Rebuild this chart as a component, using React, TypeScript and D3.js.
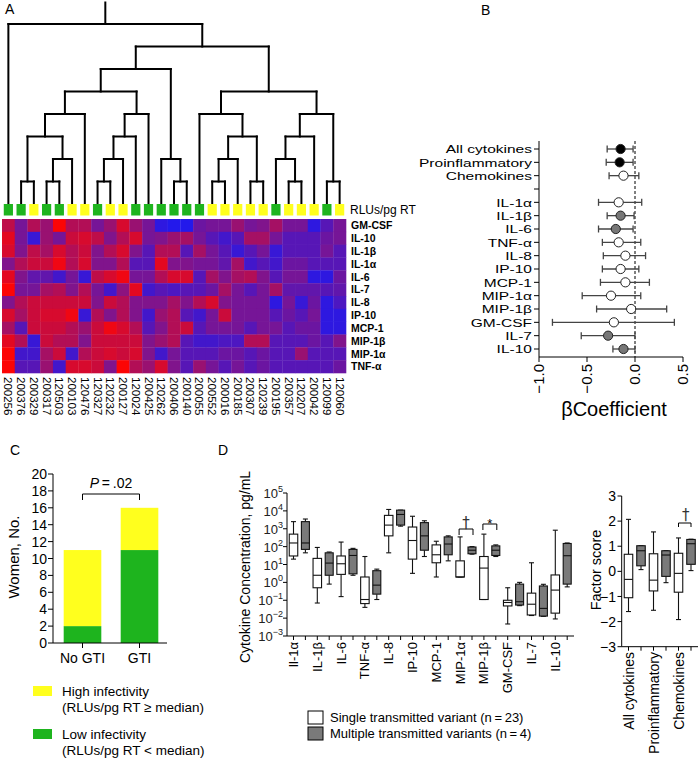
import React from "react";
import * as d3 from "d3";

const FONT = "'Liberation Sans', Arial, Helvetica, sans-serif";

// ---------- Panel A data ----------
const sampleIds = ["200256","200376","200329","200317","120503","200103","120476","120327","120232","200127","120024","200425","120262","200406","200140","200055","200552","200016","200185","200307","120239","200195","200357","120207","200042","120099","120060"];
// L = low infectivity (green), H = high infectivity (yellow)
const infectivity = ["L","L","H","L","L","H","H","L","H","H","L","L","L","L","L","L","H","H","H","H","H","L","H","H","H","L","H"];
const heatRows = ["GM-CSF","IL-10","IL-1β","IL-1α","IL-6","IL-7","IL-8","IP-10","MCP-1","MIP-1β","MIP-1α","TNF-α"];
// 0 = blue (low) ... 10 = red (high)
const heatGMCSF = [7.5,4.5,7,6,10,7,7,4.5,6,8.5,6,4.5,1,0.5,0.5,4,4.5,4.5,6,4.5,5,6.5,4.5,4.5,1,3,4.5];
const heatIL10 = [9,4.5,1.5,6,4.5,8,8.5,7.5,5,7,8.5,4.5,5,6,6.5,4.5,3,2,3,6.5,6.5,4.5,3,3,3,4,4.5];
const heatIL1b = [8.5,5,7.5,6.5,8.5,7,8,5,7,8.5,5,3,7,7,3,6.5,4.5,3,1.5,3,4.5,1.5,3,3,3,4.5,3];
const heatIL1a = [5,7,8,8,9.5,7,8.5,5,5,7,3,3,9,5,5,4.5,4.5,3.5,6.5,2,3,2,4,4,3,3,3];
const heatIL6 = [9,5,3.5,3.5,2,4.5,1.5,7.5,8.5,9.5,4.5,4.5,7,8.5,8.5,3,6.5,5,6.5,7,5,3,4.5,4.5,1,1,4];
const heatIL7 = [10,4.5,4.5,6.5,7,5,7,4.5,2,5.5,9,2,3,2.5,3,3,4,6.5,4.5,3,4.5,6.5,3.5,3.5,3.5,3,3.5];
const heatIL8 = [5,7,8,8,8,8,8,5,8,7,5,5,5,6.5,5,7,8.5,5,4.5,4.5,4.5,1,4.5,1.5,4,1,2.5];
const heatIP10 = [8.5,6.5,8,8.5,8.5,9.5,1.5,7,5,7,5,2,6,7,3,2,4.5,8,4.5,4.5,4.5,3,4,3,4.5,1,1];
const heatMCP1 = [6.5,3,8,8,8,7,6,8,9.5,8.5,7,3,5,7,8,3,4.5,4.5,4.5,3,4.5,4.5,3,4,4,1,1];
const heatMIP1b = [9,7,1.5,8,7,7,5,8,8,8,8,5,6,7,3,2,2,2.5,2.5,7,7,3,3,3,4,3,5];
const heatMIP1a = [10,2,2,6.5,8,2,7,8,8.5,8,8.5,5,2,4.5,3,3,3,4,4,3,4,3,3,6,3,3,3];
const heatTNFa = [10,3,3,6,2,8.5,8.5,8,5,10,7,6,8.5,5,3,6,4.5,3,4.5,3,4,3,3,3,3,3,4];
const heatValues = [heatGMCSF, heatIL10, heatIL1b, heatIL1a, heatIL6, heatIL7, heatIL8, heatIP10, heatMCP1, heatMIP1b, heatMIP1a, heatTNFa];

type DNode = number | { h: number; c: DNode[] };
const dendro: DNode = { h: 8, c: [0, { h: 7, c: [
  { h: 6, c: [
    { h: 5, c: [
      { h: 4, c: [ { h: 3, c: [ { h: 1, c: [1, 2] }, { h: 2, c: [ { h: 1, c: [3, 4] }, 5 ] } ] }, 6 ] },
      { h: 4, c: [ { h: 3, c: [ { h: 2, c: [ { h: 1, c: [7, 8] }, 9 ] }, 10 ] }, 11 ] },
    ] },
    { h: 2, c: [12, { h: 1, c: [13, 14] }] },
  ] },
  { h: 5, c: [
    { h: 4, c: [15, { h: 3, c: [ { h: 2, c: [ { h: 1, c: [16, 17] }, 18 ] }, { h: 1, c: [19, 20] } ] }] },
    { h: 4, c: [ { h: 3, c: [ { h: 2, c: [21, { h: 1, c: [22, 23] }] }, 24 ] }, { h: 1, c: [25, 26] } ] },
  ] },
] }] };

// ---------- Panel B data ----------
const bLabels = ["All cytokines","Proinflammatory","Chemokines"," ","IL-1α","IL-1β","IL-6","TNF-α","IL-8","IP-10","MCP-1","MIP-1α","MIP-1β","GM-CSF","IL-7","IL-10"];
const bBeta = [-0.15,-0.16,-0.12,NaN,-0.17,-0.15,-0.20,-0.17,-0.10,-0.15,-0.10,-0.25,-0.04,-0.22,-0.28,-0.12];
const bLow = [-0.29,-0.30,-0.27,NaN,-0.38,-0.29,-0.38,-0.34,-0.33,-0.34,-0.36,-0.55,-0.40,-0.86,-0.56,-0.23];
const bHigh = [-0.02,-0.02,0.04,NaN,0.07,-0.01,-0.02,0.06,0.11,0.04,0.15,0.06,0.33,0.41,0.0,0.0];
const bSig = ["sig","sig","ns","","ns","trend","trend","ns","ns","ns","ns","ns","ns","ns","trend","trend"];
const bTicks = [-1.0, -0.5, 0.0, 0.5];

// ---------- Panel C data ----------
const cGroups = ["No GTI", "GTI"];
const cLow = [2, 11];
const cHigh = [9, 5];
const cTicks = [0, 2, 4, 6, 8, 10, 12, 14, 16, 18, 20];

// ---------- Panel D data ----------
const dCytokines = ["Il-1α","IL-1β","IL-6","TNF-α","IL-8","IP-10","MCP-1","MIP-1α","MIP-1β","GM-CSF","IL-7","IL-10"];
const sMin = [20, 0.07, 0.16, 0.04, 45, 3.2, 2, 2, 0.11, 0.0047, 0.014, 0.009];
const sQ1 = [30, 0.5, 2.8, 0.065, 400, 20, 12.5, 2, 0.11, 0.048, 0.015, 0.019];
const sMed = [160, 2.5, 11, 0.11, 1600, 220, 35, 2, 6.3, 0.075, 0.06, 0.37];
const sQ3 = [500, 22, 30, 2, 5600, 1250, 125, 16, 28, 0.1, 0.25, 2.6];
const sMax = [2500, 90, 180, 28, 12000, 5000, 200, 350, 500, 0.5, 12.5, 830];
const mMin = [45, 0.8, 2.5, 0.11, 1400, 28, 16, 38, 28, 0.05, 0.0126, 0.56];
const mQ1 = [70, 2.5, 3, 0.22, 1600, 63, 35, 40, 32, 0.054, 0.013, 0.8];
const mMed = [160, 12, 32, 0.7, 6300, 400, 140, 63, 63, 0.083, 0.035, 31];
const mQ3 = [2500, 45, 70, 4.5, 11000, 2200, 350, 95, 110, 0.8, 0.63, 150];
const mMax = [3500, 50, 80, 5.5, 11000, 2800, 400, 100, 125, 1.0, 0.78, 160];
const dExponents = [5, 4, 3, 2, 1, 0, -1, -2, -3];

const fCats = ["All cytokines", "Proinflammatory", "Chemokines"];
const fsMin = [-1.6, -1.55, -1.92];
const fsQ1 = [-1.05, -0.78, -0.83];
const fsMed = [-0.32, -0.35, -0.08];
const fsQ3 = [0.68, 0.7, 0.72];
const fsMax = [2.07, 1.57, 1.33];
const fmMin = [0.07, -0.45, 0.03];
const fmQ1 = [0.22, -0.2, 0.28];
const fmMed = [0.82, 0.65, 1.1];
const fmQ3 = [1.02, 0.82, 1.27];
const fmMax = [1.02, 0.82, 1.28];
const fTicks = [3, 2, 1, 0, -1, -2, -3];

const YELLOW = "#ffff1e";
const GREEN = "#1eb41e";
const GRAY = "#7a7a7a";

function Box({ x, w, y0, y1, ym, yq1, yq3, fill }: any) {
  const cap = 2.5;
  return (
    <g stroke="#111" strokeWidth={1.1}>
      <line x1={x} x2={x} y1={y1} y2={yq3} />
      <line x1={x} x2={x} y1={yq1} y2={y0} />
      <line x1={x - cap} x2={x + cap} y1={y1} y2={y1} />
      <line x1={x - cap} x2={x + cap} y1={y0} y2={y0} />
      <rect x={x - w / 2} y={yq3} width={w} height={Math.max(0.5, yq1 - yq3)} fill={fill} />
      <line x1={x - w / 2} x2={x + w / 2} y1={ym} y2={ym} />
    </g>
  );
}

export default function App() {
  // ----- Panel A -----
  const xCol = d3.scaleBand().domain(sampleIds).range([2, 346]);
  const yRow = d3.scaleBand().domain(heatRows).range([219, 373]);
  const color = d3.scaleLinear<string>().domain([0, 5, 10]).range(["rgb(25,25,245)", "rgb(128,20,140)", "rgb(252,5,5)"]).interpolate(d3.interpolateRgb);
  const yH = d3.scaleLinear().domain([0, 8]).range([204, 24]);
  const leafX = (i: number) => (xCol(sampleIds[i]) as number) + xCol.bandwidth() / 2;
  const dSegs: { x1: number; y1: number; x2: number; y2: number }[] = [];
  const layout = (n: DNode): { x: number; y: number } => {
    if (typeof n === "number") return { x: leafX(n), y: yH(0) };
    const kids = n.c.map(layout);
    const y = yH(n.h);
    dSegs.push({ x1: kids[0].x, y1: y, x2: kids[kids.length - 1].x, y2: y });
    kids.forEach((k) => dSegs.push({ x1: k.x, y1: y, x2: k.x, y2: k.y }));
    return { x: (kids[0].x + kids[kids.length - 1].x) / 2, y };
  };
  const root = layout(dendro);
  dSegs.push({ x1: root.x, y1: root.y, x2: root.x, y2: yH(9) + 1 });

  // ----- Panel B -----
  const bx = d3.scaleLinear().domain([-1, 0.5]).range([539, 683]);
  const by = d3.scalePoint().domain(bLabels).range([141, 357]).padding(0.6);

  // ----- Panel C -----
  const cy = d3.scaleLinear().domain([0, 20]).range([643, 474]);
  const cx = d3.scaleBand().domain(cGroups).range([54, 168]).paddingInner(0.34).paddingOuter(0.17);

  // ----- Panel D left -----
  const dy = d3.scaleLog().domain([1e-3, 1e5]).range([636, 493]);
  const dx = d3.scalePoint().domain(dCytokines).range([293.5, 555.3]);
  const dOff = dx.step() / 2;

  // ----- Panel D right -----
  const fy = d3.scaleLinear().domain([-3, 3]).range([646.7, 496]);
  const fx = d3.scalePoint().domain(fCats).range([628.5, 678.5]);
  const fOff = fx.step() / 2;

  const fmt = (v: number) => (v < 0 ? "\u2212" : "") + Math.abs(v).toFixed(1);
  const sup = (e: number) => (e < 0 ? "\u2212" + Math.abs(e) : String(e));

  return (
    <svg width={700} height={760} style={{ position: "absolute", left: 0, top: 0, background: "#fff" }} fontFamily={FONT}>
      <rect x={0} y={0} width={700} height={760} fill="#fff" />
      {/* Panel labels */}
      <text x={5} y={14} fontSize={14}>A</text>
      <text x={481} y={15} fontSize={14}>B</text>
      <text x={10} y={455} fontSize={14}>C</text>
      <text x={218} y={455} fontSize={14}>D</text>

      {/* ===== Panel A ===== */}
      <g stroke="#000" strokeWidth={2} strokeLinecap="square">
        {dSegs.map((s, i) => (
          <line key={i} x1={s.x1} y1={s.y1} x2={s.x2} y2={s.y2} />
        ))}
      </g>
      {sampleIds.map((id, i) => (
        <rect key={id} x={leafX(i) - 4.6} y={204} width={9.2} height={11.5} fill={infectivity[i] === "L" ? GREEN : YELLOW} />
      ))}
      <text x={350} y={214} fontSize={12}>RLUs/pg RT</text>
      {heatValues.map((row, r) =>
        row.map((v, c) => (
          <rect key={r + "-" + c} x={xCol(sampleIds[c])} y={yRow(heatRows[r])} width={xCol.bandwidth() + 0.3} height={yRow.bandwidth() + 0.3} fill={color(v)} />
        ))
      )}
      {heatRows.map((r) => (
        <text key={r} x={351} y={(yRow(r) as number) + yRow.bandwidth() / 2} dy="0.36em" fontSize={10.5} fontWeight="bold">{r}</text>
      ))}
      {sampleIds.map((id, i) => (
        <text key={id} transform={`translate(${leafX(i) - 4},377) rotate(90)`} fontSize={11.5}>{id}</text>
      ))}

      {/* ===== Panel B ===== */}
      <g stroke="#000" strokeWidth={1}>
        <line x1={539} x2={539} y1={141} y2={357} />
        <line x1={539} x2={683} y1={357} y2={357} />
        {bLabels.map((l) => (
          <line key={l} x1={534} x2={539} y1={by(l)} y2={by(l)} />
        ))}
        {bTicks.map((t) => (
          <line key={t} x1={bx(t)} x2={bx(t)} y1={357} y2={362} />
        ))}
      </g>
      <line x1={bx(0)} x2={bx(0)} y1={141} y2={357} stroke="#000" strokeWidth={1} strokeDasharray="3,2" />
      {bLabels.map((l) => (
        <text key={l} transform={`translate(532,${(by(l) as number) + 4.2}) scale(1.35,1)`} textAnchor="end" fontSize={11.5}>{l}</text>
      ))}
      {bTicks.map((t) => (
        <text key={t} transform={`translate(${bx(t) + 5},364) rotate(-90)`} textAnchor="end" fontSize={15}>{fmt(t)}</text>
      ))}
      <text x={614} y={416} textAnchor="middle" fontSize={20}>βCoefficient</text>
      {bLabels.map((l, i) => {
        if (isNaN(bBeta[i])) return null;
        const y = by(l) as number;
        const fill = bSig[i] === "sig" ? "#000" : bSig[i] === "trend" ? "#777" : "#fff";
        return (
          <g key={l}>
            <g stroke="#444" strokeWidth={1.3}>
              <line x1={bx(bLow[i])} x2={bx(bHigh[i])} y1={y} y2={y} />
              <line x1={bx(bLow[i])} x2={bx(bLow[i])} y1={y - 3.5} y2={y + 3.5} />
              <line x1={bx(bHigh[i])} x2={bx(bHigh[i])} y1={y - 3.5} y2={y + 3.5} />
            </g>
            <circle cx={bx(bBeta[i])} cy={y} r={4.6} fill={fill} stroke="#222" strokeWidth={1} />
          </g>
        );
      })}

      {/* ===== Panel C ===== */}
      {cGroups.map((g, i) => (
        <g key={g}>
          <rect x={cx(g)} y={cy(cLow[i])} width={cx.bandwidth()} height={cy(0) - cy(cLow[i])} fill={GREEN} />
          <rect x={cx(g)} y={cy(cLow[i] + cHigh[i])} width={cx.bandwidth()} height={cy(cLow[i]) - cy(cLow[i] + cHigh[i])} fill={YELLOW} />
        </g>
      ))}
      <g stroke="#000" strokeWidth={1}>
        <line x1={53} x2={53} y1={cy(20)} y2={cy(0)} />
        <line x1={53} x2={167} y1={cy(0)} y2={cy(0)} />
        {cTicks.map((t) => (
          <line key={t} x1={48} x2={53} y1={cy(t)} y2={cy(t)} />
        ))}
        {cGroups.map((g) => {
          const x = (cx(g) as number) + cx.bandwidth() / 2;
          return <line key={g} x1={x} x2={x} y1={cy(0)} y2={cy(0) + 5} />;
        })}
      </g>
      {cTicks.map((t) => (
        <text key={t} x={47} y={cy(t)} dy="0.36em" textAnchor="end" fontSize={14}>{t}</text>
      ))}
      {cGroups.map((g) => (
        <text key={g} x={(cx(g) as number) + cx.bandwidth() / 2} y={663} textAnchor="middle" fontSize={14}>{g}</text>
      ))}
      <text transform="translate(19,557) rotate(-90)" textAnchor="middle" fontSize={15}>Women, No.</text>
      {(() => {
        const x1 = (cx(cGroups[0]) as number) + cx.bandwidth() / 2;
        const x2 = (cx(cGroups[1]) as number) + cx.bandwidth() / 2;
        return (
          <g>
            <path d={`M${x1},500V494H${x2}V500`} fill="none" stroke="#000" strokeWidth={1} />
            <text x={(x1 + x2) / 2} y={488} textAnchor="middle" fontSize={14}>
              <tspan fontStyle="italic">P</tspan>{"\u2009=\u2009.02"}
            </text>
          </g>
        );
      })()}
      <rect x={33} y={686} width={19} height={10} fill={YELLOW} />
      <text x={62} y={696} fontSize={13.5}>High infectivity</text>
      <text x={62} y={712} fontSize={13.5}>(RLUs/pg RT ≥ median)</text>
      <rect x={33} y={729} width={19} height={10} fill={GREEN} />
      <text x={62} y={739} fontSize={13.5}>Low infectivity</text>
      <text x={62} y={755} fontSize={13.5}>(RLUs/pg RT &lt; median)</text>

      {/* ===== Panel D left ===== */}
      <g stroke="#000" strokeWidth={1}>
        <line x1={287} x2={287} y1={dy(1e5)} y2={dy(1e-3)} />
        <line x1={287} x2={574} y1={dy(1e-3)} y2={dy(1e-3)} />
        {dExponents.map((e) => (
          <line key={e} x1={283} x2={287} y1={dy(Math.pow(10, e))} y2={dy(Math.pow(10, e))} />
        ))}
        {dCytokines.map((c) => (
          <g key={c}>
            <line x1={dx(c)} x2={dx(c)} y1={636} y2={640} />
            <line x1={(dx(c) as number) + dOff} x2={(dx(c) as number) + dOff} y1={636} y2={640} />
          </g>
        ))}
      </g>
      {dExponents.map((e) => (
        <text key={e} x={283} y={dy(Math.pow(10, e)) + 5} textAnchor="end" fontSize={13} fill="#222">
          10<tspan dy={-6} fontSize={9}>{sup(e)}</tspan>
        </text>
      ))}
      <text transform="translate(250,567) rotate(-90)" textAnchor="middle" fontSize={14}>Cytokine Concentration, pg/mL</text>
      {dCytokines.map((c) => (
        <text key={c} transform={`translate(${(dx(c) as number) + 4.5},642) rotate(-90)`} textAnchor="end" fontSize={13}>{c}</text>
      ))}
      {dCytokines.map((c, i) => {
        const x = dx(c) as number;
        return (
          <g key={c}>
            <Box x={x} w={8.5} y0={dy(sMin[i])} y1={dy(sMax[i])} ym={dy(sMed[i])} yq1={dy(sQ1[i])} yq3={dy(sQ3[i])} fill="#fff" />
            <Box x={x + dOff} w={8} y0={dy(mMin[i])} y1={dy(mMax[i])} ym={dy(mMed[i])} yq1={dy(mQ1[i])} yq3={dy(mQ3[i])} fill={GRAY} />
          </g>
        );
      })}
      {/* significance marks */}
      {(() => {
        const a = dx("MIP-1α") as number;
        const b = dx("MIP-1β") as number;
        return (
          <g>
            <path d={`M${a - 1},535V529H${a + dOff + 1}V535`} fill="none" stroke="#000" strokeWidth={1} />
            <text x={a + dOff / 2} y={528} textAnchor="middle" fontSize={15} fontFamily="'DejaVu Sans', sans-serif" fill="#333">†</text>
            <path d={`M${b - 1},530V524H${b + dOff + 1}V530`} fill="none" stroke="#000" strokeWidth={1} />
            <text x={b + dOff / 2} y={528} textAnchor="middle" fontSize={13} fill="#000">*</text>
          </g>
        );
      })()}
      <rect x={308} y={711} width={15} height={13} fill="#fff" stroke="#000" strokeWidth={1} />
      <text x={330} y={722} fontSize={13}>Single transmitted variant (n{"\u2009=\u2009"}23)</text>
      <rect x={308} y={727} width={15} height={13} fill={GRAY} stroke="#000" strokeWidth={1} />
      <text x={330} y={738} fontSize={13}>Multiple transmitted variants (n{"\u2009=\u2009"}4)</text>

      {/* ===== Panel D right ===== */}
      <g stroke="#000" strokeWidth={1}>
        <line x1={621.7} x2={621.7} y1={fy(3)} y2={fy(-3)} />
        <line x1={621.7} x2={698} y1={fy(-3)} y2={fy(-3)} />
        {fTicks.map((t) => (
          <line key={t} x1={617.5} x2={621.7} y1={fy(t)} y2={fy(t)} />
        ))}
        {fCats.map((c) => (
          <g key={c}>
            <line x1={fx(c)} x2={fx(c)} y1={fy(-3)} y2={fy(-3) + 4} />
            <line x1={(fx(c) as number) + fOff} x2={(fx(c) as number) + fOff} y1={fy(-3)} y2={fy(-3) + 4} />
          </g>
        ))}
      </g>
      {fTicks.map((t) => (
        <text key={t} x={616} y={fy(t)} dy="0.36em" textAnchor="end" fontSize={14}>{t < 0 ? "\u2212" + Math.abs(t) : t}</text>
      ))}
      <text transform="translate(601,570) rotate(-90)" textAnchor="middle" fontSize={14.5}>Factor score</text>
      {fCats.map((c) => (
        <text key={c} transform={`translate(${(fx(c) as number) + 5},652) rotate(-90)`} textAnchor="end" fontSize={14}>{c}</text>
      ))}
      {fCats.map((c, i) => {
        const x = fx(c) as number;
        return (
          <g key={c}>
            <Box x={x} w={8.5} y0={fy(fsMin[i])} y1={fy(fsMax[i])} ym={fy(fsMed[i])} yq1={fy(fsQ1[i])} yq3={fy(fsQ3[i])} fill="#fff" />
            <Box x={x + fOff} w={8.5} y0={fy(fmMin[i])} y1={fy(fmMax[i])} ym={fy(fmMed[i])} yq1={fy(fmQ1[i])} yq3={fy(fmQ3[i])} fill={GRAY} />
          </g>
        );
      })}
      {(() => {
        const a = fx("Chemokines") as number;
        return (
          <g>
            <path d={`M${a},527V523H${a + fOff}V527`} fill="none" stroke="#000" strokeWidth={1} />
            <text x={a + fOff / 2 + 1} y={520} textAnchor="middle" fontSize={15} fontFamily="'DejaVu Sans', sans-serif" fill="#333">†</text>
          </g>
        );
      })()}
    </svg>
  );
}
